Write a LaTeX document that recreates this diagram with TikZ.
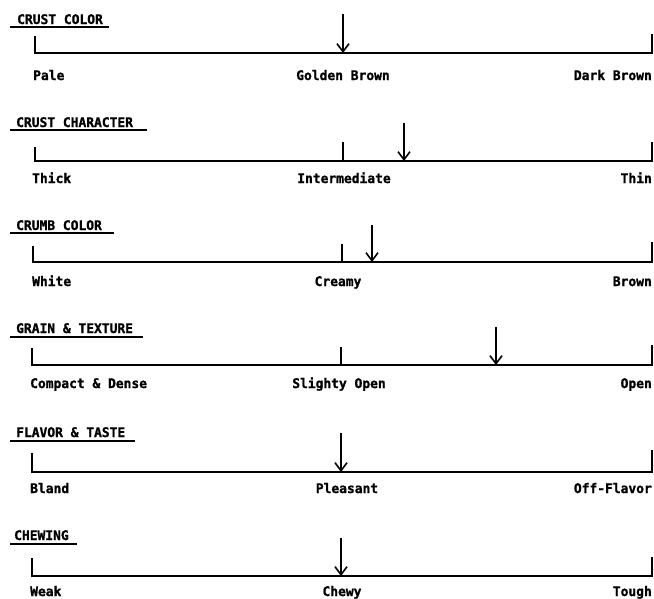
\documentclass[tikz,border=0pt]{standalone}
\usepackage{fontspec}
\setmonofont{DejaVu Sans Mono}
\newfontfamily\twfont[FakeStretch=0.98,FakeBold=1.2]{DejaVu Sans Mono}
\usetikzlibrary{arrows.meta}
\tikzset{
  x=1pt,y=-1pt,
  txt/.style={inner sep=0pt,font=\twfont\bfseries\fontsize{13.2}{14}\selectfont},
  ttl/.style={txt,anchor=base west},
  lft/.style={txt,anchor=base west},
  rgt/.style={txt,anchor=base east},
  mid/.style={txt,anchor=base},
  uline/.style={line width=1.8pt},
  scale line/.style={line width=2.1pt,line join=miter,line cap=butt},
  midtick/.style={line width=2.1pt},
  marker/.style={line width=1.8pt,-{Straight Barb[length=8pt,width=12pt,line width=1.6pt]}},
}
\begin{document}
\begin{tikzpicture}
\useasboundingbox (0,0) rectangle (654,598);
% Row 1
\node[ttl] (t1) at (17,24) {CRUST COLOR};
\coordinate (u1a) at (10,27); \coordinate (u1b) at (109,27);
\draw[uline] (u1a) -- (u1b);
\coordinate (l1a) at (35,36); \coordinate (l1b) at (35,53);
\coordinate (r1b) at (652,53); \coordinate (r1a) at (652,34);
\draw[scale line] (l1a) -- (l1b) -- (r1b) -- (r1a);
\coordinate (a1a) at (343,14); \coordinate (a1b) at (343,53);
\draw[marker] (a1a) -- (a1b);
\node[lft] (p1) at (33,80) {Pale};
\node[mid] (c1) at (343,80) {Golden Brown};
\node[rgt] (d1) at (652,80) {Dark Brown};
% Row 2
\node[ttl] (t2) at (16,127) {CRUST CHARACTER};
\coordinate (u2a) at (10,130); \coordinate (u2b) at (147,130);
\draw[uline] (u2a) -- (u2b);
\coordinate (l2a) at (35,147); \coordinate (l2b) at (35,161);
\coordinate (r2b) at (652,161); \coordinate (r2a) at (652,142);
\draw[scale line] (l2a) -- (l2b) -- (r2b) -- (r2a);
\coordinate (m2a) at (343,142); \coordinate (m2b) at (343,161);
\draw[midtick] (m2a) -- (m2b);
\coordinate (a2a) at (404,123); \coordinate (a2b) at (404,161);
\draw[marker] (a2a) -- (a2b);
\node[lft] (p2) at (32,183) {Thick};
\node[mid] (c2) at (344,183) {Intermediate};
\node[rgt] (d2) at (652,183) {Thin};
% Row 3
\node[ttl] (t3) at (16,230) {CRUMB COLOR};
\coordinate (u3a) at (10,233); \coordinate (u3b) at (114,233);
\draw[uline] (u3a) -- (u3b);
\coordinate (l3a) at (33,246); \coordinate (l3b) at (33,262);
\coordinate (r3b) at (652,262); \coordinate (r3a) at (652,242);
\draw[scale line] (l3a) -- (l3b) -- (r3b) -- (r3a);
\coordinate (m3a) at (342,244); \coordinate (m3b) at (342,262);
\draw[midtick] (m3a) -- (m3b);
\coordinate (a3a) at (372,225); \coordinate (a3b) at (372,262);
\draw[marker] (a3a) -- (a3b);
\node[lft] (p3) at (32,286) {White};
\node[mid] (c3) at (338,286) {Creamy};
\node[rgt] (d3) at (652,286) {Brown};
% Row 4
\node[ttl] (t4) at (16,333) {GRAIN \& TEXTURE};
\coordinate (u4a) at (10,337); \coordinate (u4b) at (143,337);
\draw[uline] (u4a) -- (u4b);
\coordinate (l4a) at (32,348); \coordinate (l4b) at (32,365);
\coordinate (r4b) at (652,365); \coordinate (r4a) at (652,345);
\draw[scale line] (l4a) -- (l4b) -- (r4b) -- (r4a);
\coordinate (m4a) at (341,347); \coordinate (m4b) at (341,365);
\draw[midtick] (m4a) -- (m4b);
\coordinate (a4a) at (496,327); \coordinate (a4b) at (496,365);
\draw[marker] (a4a) -- (a4b);
\node[lft] (p4) at (30,388) {Compact \& Dense};
\node[mid] (c4) at (339,388) {Slighty Open};
\node[rgt] (d4) at (652,388) {Open};
% Row 5
\node[ttl] (t5) at (16,437) {FLAVOR \& TASTE};
\coordinate (u5a) at (10,441); \coordinate (u5b) at (135,441);
\draw[uline] (u5a) -- (u5b);
\coordinate (l5a) at (32,453); \coordinate (l5b) at (32,472);
\coordinate (r5b) at (652,472); \coordinate (r5a) at (652,450);
\draw[scale line] (l5a) -- (l5b) -- (r5b) -- (r5a);
\coordinate (a5a) at (341,433); \coordinate (a5b) at (341,472);
\draw[marker] (a5a) -- (a5b);
\node[lft] (p5) at (30,493) {Bland};
\node[mid] (c5) at (347,493) {Pleasant};
\node[rgt] (d5) at (652,493) {Off-Flavor};
% Row 6
\node[ttl] (t6) at (14,540) {CHEWING};
\coordinate (u6a) at (10,544); \coordinate (u6b) at (77,544);
\draw[uline] (u6a) -- (u6b);
\coordinate (l6a) at (32,558); \coordinate (l6b) at (32,576);
\coordinate (r6b) at (652,576); \coordinate (r6a) at (652,557);
\draw[scale line] (l6a) -- (l6b) -- (r6b) -- (r6a);
\coordinate (a6a) at (341,538); \coordinate (a6b) at (341,576);
\draw[marker] (a6a) -- (a6b);
\node[lft] (p6) at (30,596) {Weak};
\node[mid] (c6) at (342,596) {Chewy};
\node[rgt] (d6) at (652,596) {Tough};
\end{tikzpicture}
\end{document}
